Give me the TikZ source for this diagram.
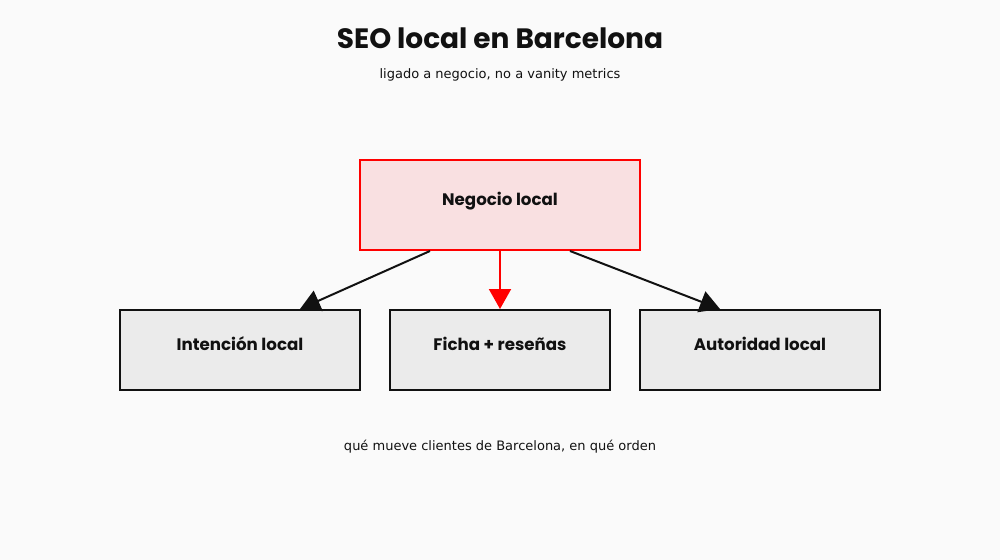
\documentclass[tikz,border=0pt]{standalone}
\usepackage{fontspec}
\setmainfont{DejaVu Sans}
\newfontfamily\poppins{Poppins}
\usepackage{tikz}
\usetikzlibrary{arrows.meta,positioning,calc}
\definecolor{PageGrey}{RGB}{250,250,250}
\definecolor{RootPink}{RGB}{249,224,225}
\definecolor{LeafGrey}{RGB}{235,235,235}
\definecolor{RootRed}{RGB}{255,0,0}
\definecolor{InkBlack}{RGB}{17,17,17}

\begin{document}
\begin{tikzpicture}[x=0.75pt,y=-0.75pt,
    leaf/.style={draw=InkBlack, fill=LeafGrey, line width=1.5pt, minimum height=60pt, inner sep=0pt},
    boxlabel/.style={font=\poppins\bfseries\fontsize{12.5}{15}\selectfont, text=InkBlack},
    link/.style={line width=1.5pt, InkBlack, -{Triangle[length=15pt,width=16.5pt]}}]
    \fill[PageGrey] (0,0) rectangle (1000,560);
    % title block
    \node[font=\poppins\bfseries\fontsize{21}{25}\selectfont, text=InkBlack] (title) at (500,38) {SEO local en Barcelona};
    \node[font=\fontsize{9.75}{12}\selectfont, text=InkBlack] (subtitle) at (500,75) {ligado a negocio, no a vanity metrics};
    % root and leaves
    \node[draw=RootRed, fill=RootPink, line width=1.5pt, minimum width=210pt, minimum height=67.5pt, inner sep=0pt] (negocio) at (500,205) {};
    \node[leaf, minimum width=180pt] (intencion) at (240,350) {};
    \node[leaf, minimum width=165pt] (ficha) at (500,350) {};
    \node[leaf, minimum width=180pt] (autoridad) at (760,350) {};
    \node[boxlabel] (negociotxt) at ($(negocio.center)+(0,-4)$) {Negocio local};
    \node[boxlabel] (intenciontxt) at ($(intencion.center)+(0,-6)$) {Intención local};
    \node[boxlabel] (fichatxt) at ($(ficha.center)+(0,-6)$) {Ficha + reseñas};
    \node[boxlabel] (autoridadtxt) at ($(autoridad.center)+(0,-6)$) {Autoridad local};
    % connectors
    \coordinate (outleft) at ($(negocio.south)+(-70,0)$);
    \coordinate (outright) at ($(negocio.south)+(70,0)$);
    \coordinate (inleft) at ($(intencion.north)+(60,0)$);
    \coordinate (inright) at ($(autoridad.north)+(-40,0)$);
    \draw[link] (outleft) -- (inleft);
    \draw[link, RootRed] (negocio.south) -- (ficha.north);
    \draw[link] (outright) -- (inright);
    % caption
    \node[font=\fontsize{9.75}{12}\selectfont, text=InkBlack] (caption) at (500,447) {qué mueve clientes de Barcelona, en qué orden};
\end{tikzpicture}
\end{document}
